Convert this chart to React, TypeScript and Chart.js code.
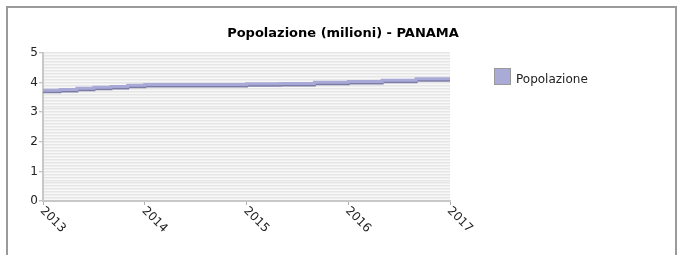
import React, { useEffect, useRef } from "react";
import { Chart, registerables } from "chart.js";

Chart.register(...registerables);

const titleText = "Popolazione (milioni) - PANAMA";
const seriesLabel = "Popolazione";
const stepYears = [2013, 2013.167, 2013.333, 2013.5, 2013.667, 2013.833, 2014, 2015, 2015.333, 2015.667, 2016, 2016.333, 2016.667, 2017];
const stepValues = [3.74, 3.77, 3.81, 3.84, 3.87, 3.91, 3.94, 3.96, 3.97, 4.01, 4.04, 4.08, 4.13, 4.13];
const yearTicks = [2013, 2014, 2015, 2016, 2017];

const FONT = "DejaVu Sans";
const isInt = (v: number) => Math.abs(v - Math.round(v)) < 1e-6;

const customPlugin = {
  id: "custom",
  beforeDraw(chart: any) {
    const { ctx, chartArea: a } = chart;
    ctx.save();
    ctx.fillStyle = "#f8f8f8";
    ctx.fillRect(a.left, a.top, a.right - a.left, a.bottom - a.top);
    ctx.restore();
  },
  beforeDatasetDraw(chart: any) {
    const ctx = chart.ctx;
    ctx.save();
    ctx.shadowColor = "#7c7ca6";
    ctx.shadowOffsetX = 0;
    ctx.shadowOffsetY = 1.5;
    ctx.shadowBlur = 0;
  },
  afterDatasetDraw(chart: any) {
    chart.ctx.restore();
  },
  afterDraw(chart: any) {
    const { ctx, chartArea: a } = chart;
    const xs = chart.scales.x;
    ctx.save();
    // title
    ctx.fillStyle = "#000";
    ctx.font = `bold 13px "${FONT}"`;
    ctx.textAlign = "center";
    ctx.textBaseline = "alphabetic";
    ctx.fillText(titleText, 343, 37);
    // legend
    ctx.fillStyle = "#aaaad6";
    ctx.fillRect(495, 69, 15, 15);
    ctx.strokeStyle = "#999";
    ctx.lineWidth = 1;
    ctx.strokeRect(494.5, 68.5, 16, 16);
    ctx.fillStyle = "#222";
    ctx.font = `12px "${FONT}"`;
    ctx.textAlign = "left";
    ctx.fillText(seriesLabel, 516, 83);
    // rotated x labels
    ctx.fillStyle = "#222";
    ctx.font = `12px "${FONT}"`;
    ctx.textBaseline = "middle";
    yearTicks.forEach((yr) => {
      const px = xs.getPixelForValue(yr);
      ctx.save();
      ctx.translate(px - 1, a.bottom + 8);
      ctx.rotate(Math.PI / 4);
      ctx.fillText(String(yr), 0, 0);
      ctx.restore();
    });
    ctx.restore();
  },
};

export default function App() {
  const ref = useRef<HTMLCanvasElement | null>(null);
  useEffect(() => {
    document.body.style.overflow = "hidden";
    const chart = new Chart(ref.current as HTMLCanvasElement, {
      type: "line",
      data: {
        datasets: [
          {
            label: seriesLabel,
            data: stepYears.map((x, i) => ({ x, y: stepValues[i] })),
            borderColor: "#a9a9d8",
            borderWidth: 3,
            stepped: "before",
            pointRadius: 0,
            fill: false,
          },
        ],
      },
      options: {
        responsive: false,
        animation: false,
        layout: { padding: { left: 0, right: 228, top: 53, bottom: 0 } },
        plugins: { legend: { display: false }, title: { display: false }, tooltip: { enabled: false } },
        scales: {
          x: {
            type: "linear",
            min: 2013,
            max: 2017,
            afterFit: (s: any) => { s.height = 54; },
            ticks: { stepSize: 1, color: "rgba(0,0,0,0)", minRotation: 0, maxRotation: 0, font: { family: FONT, size: 12 } },
            grid: { drawOnChartArea: false, color: "#b0b0b0", tickLength: 4 },
            border: { display: true, color: "#c8c8c8", width: 2 },
          },
          y: {
            min: 0,
            max: 5,
            afterFit: (s: any) => { s.width = 43; },
            ticks: {
              stepSize: 0.1,
              autoSkip: false,
              padding: 1,
              color: "#222",
              font: { family: FONT, size: 12 },
              callback: (v: any) => (isInt(Number(v)) ? String(Math.round(Number(v))) : ""),
            },
            grid: {
              color: "#e6e6e6",
              lineWidth: 1.5,
              tickLength: 4,
              tickColor: (c: any) => (c.tick && isInt(c.tick.value) ? "#b0b0b0" : "rgba(0,0,0,0)"),
              tickWidth: 1,
            },
            border: { display: true, color: "#c8c8c8", width: 2 },
          },
        },
      },
      plugins: [customPlugin],
    });
    return () => chart.destroy();
  }, []);
  return (
    <div>
      <div
        style={{
          position: "absolute",
          left: 6,
          top: 6,
          width: 667,
          height: 249,
          border: "2px solid #9a9a9a",
          borderBottom: "none",
        }}
      />
      <canvas ref={ref} width={678} height={255} style={{ position: "absolute", left: 0, top: 0 }} />
    </div>
  );
}
